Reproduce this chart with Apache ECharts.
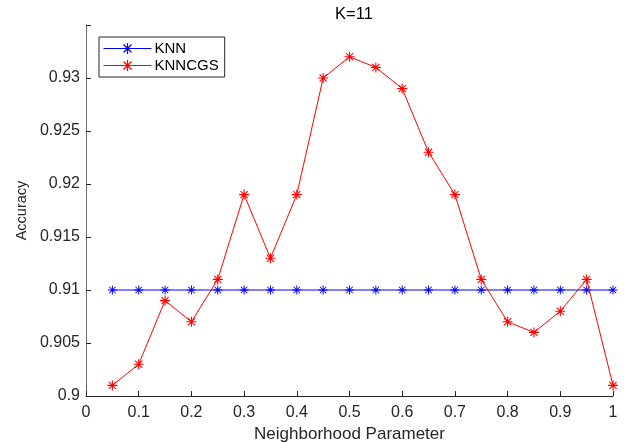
<!DOCTYPE html>
<html><head><meta charset="utf-8">
<script src="https://cdn.jsdelivr.net/npm/echarts@6/dist/echarts.min.js"></script>
<style>html,body{margin:0;padding:0;background:#fff}#c{width:632px;height:443px}</style>
</head><body><div id="c"></div>
<script>
const params = [0.05,0.1,0.15,0.2,0.25,0.3,0.35,0.4,0.45,0.5,0.55,0.6,0.65,0.7,0.75,0.8,0.85,0.9,0.95,1.0];
const knn = [0.910,0.910,0.910,0.910,0.910,0.910,0.910,0.910,0.910,0.910,0.910,0.910,0.910,0.910,0.910,0.910,0.910,0.910,0.910,0.910];
const knncgs = [0.901,0.903,0.909,0.907,0.911,0.919,0.913,0.919,0.930,0.932,0.931,0.929,0.923,0.919,0.911,0.907,0.906,0.908,0.911,0.901];

const star = 'path://M8.9 0L11.1 0L11.1 20L8.9 20Z M0 8.9L20 8.9L20 11.1L0 11.1Z M3.6 2.1L17.9 16.4L16.4 17.9L2.1 3.6Z M16.4 2.1L17.9 3.6L3.6 17.9L2.1 16.4Z';
const font = 'Liberation Sans, Arial, sans-serif';
const txt = '#262626';
const chart = echarts.init(document.getElementById('c'));
chart.setOption({
  animation: false,
  backgroundColor: '#fff',
  title: { text: 'K=11', left: 349, textAlign: 'center', top: 1,
    textStyle: { fontSize: 16.5, fontWeight: 'normal', color: '#000', fontFamily: font } },
  grid: { left: 86, right: 19, top: 25, bottom: 47, containLabel: false, outerBoundsMode: 'none' },
  legend: {
    left: 99, top: 37, orient: 'vertical', borderColor: txt, borderWidth: 1,
    padding: [4, 6, 4, 4], itemWidth: 48, itemHeight: 14, itemGap: 2,
    backgroundColor: '#fff',
    lineStyle: { width: 1 },
    textStyle: { fontSize: 15, color: '#000', fontFamily: font, padding: [0,0,0,-2] },
    data: ['KNN', 'KNNCGS']
  },
  xAxis: {
    type: 'value', min: 0, max: 1, interval: 0.1,
    name: 'Neighborhood Parameter', nameLocation: 'middle', nameGap: 24,
    nameTextStyle: { fontSize: 17, color: txt, fontFamily: font },
    axisLine: { lineStyle: { color: txt, width: 1 } },
    axisTick: { inside: true, length: 5, lineStyle: { color: txt } },
    axisLabel: { fontSize: 16, color: txt, fontFamily: font, margin: 9,
      formatter: v => String(parseFloat(v.toFixed(2))) },
    splitLine: { show: false }
  },
  yAxis: {
    type: 'value', min: 0.9, max: 0.935, interval: 0.005,
    name: 'Accuracy', nameLocation: 'middle', nameGap: 56,
    nameTextStyle: { fontSize: 14.5, color: txt, fontFamily: font },
    axisLine: { show: true, lineStyle: { color: '#6a6a6a', width: 1 } },
    axisTick: { show: true, inside: true, length: 5, lineStyle: { color: txt } },
    axisLabel: { fontSize: 16, color: txt, fontFamily: font, margin: 6,
      formatter: v => v > 0.9345 ? '' : String(parseFloat(v.toFixed(3))) },
    splitLine: { show: false }
  },
  series: [
    { name: 'KNN', type: 'line', data: params.map((x, i) => [x, knn[i]]),
      symbol: star, symbolSize: 9, showAllSymbol: true,
      lineStyle: { color: '#0000ff', width: 1 }, itemStyle: { color: '#0000ff' }, z: 2 },
    { name: 'KNNCGS', type: 'line', data: params.map((x, i) => [x, knncgs[i]]),
      symbol: star, symbolSize: 10, showAllSymbol: true,
      lineStyle: { color: '#ff0000', width: 1 }, itemStyle: { color: '#ff0000' }, z: 3 }
  ]
});
</script></body></html>
